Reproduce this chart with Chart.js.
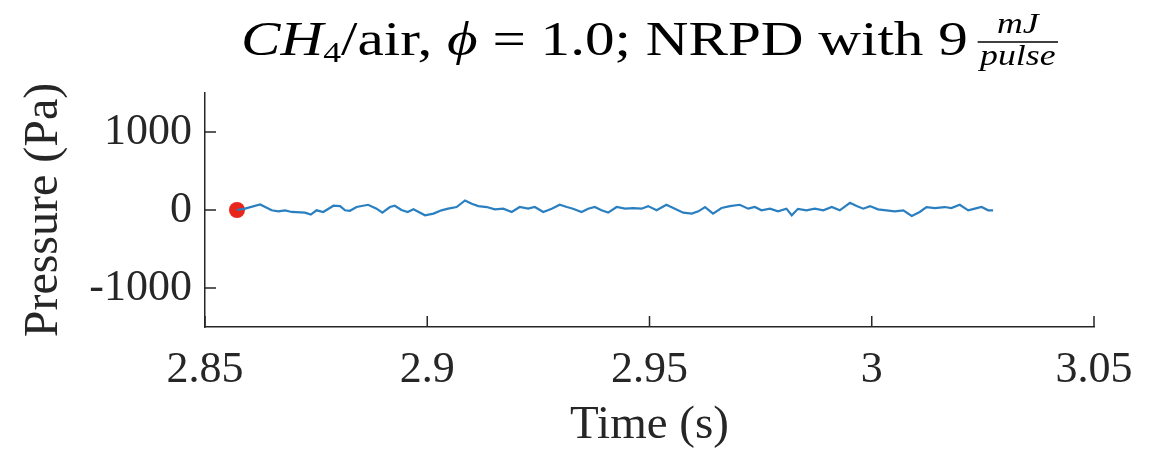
<!DOCTYPE html>
<html>
<head>
<meta charset="utf-8">
<title>CH4/air pressure trace</title>
<script src="https://cdn.jsdelivr.net/npm/chart.js@4.4.1/dist/chart.umd.min.js"></script>
<style>
  html, body { margin: 0; padding: 0; background: #fff; }
  #chart { display: block; }
</style>
</head>
<body>
<canvas id="chart" width="1159" height="454"></canvas>
<script>
// pressure trace (time in s, pressure in Pa)
const time = [
  2.8572, 2.8590, 2.8624, 2.8650, 2.8665, 2.8680, 2.8695, 2.8725, 2.8738, 2.8751,
  2.8766, 2.8789, 2.8804, 2.8815, 2.8826, 2.8841, 2.8867, 2.8886, 2.8899, 2.8916,
  2.8927, 2.8942, 2.8956, 2.8969, 2.8995, 2.9014, 2.9032, 2.9047, 2.9066, 2.9085,
  2.9100, 2.9115, 2.9134, 2.9152, 2.9171, 2.9190, 2.9208, 2.9227, 2.9242, 2.9261,
  2.9280, 2.9298, 2.9314, 2.9328, 2.9347, 2.9362, 2.9377, 2.9392, 2.9407, 2.9426,
  2.9445, 2.9463, 2.9482, 2.9497, 2.9516, 2.9538, 2.9557, 2.9576, 2.9595, 2.9610,
  2.9625, 2.9643, 2.9662, 2.9681, 2.9703, 2.9722, 2.9737, 2.9752, 2.9771, 2.9789,
  2.9808, 2.9820, 2.9834, 2.9853, 2.9872, 2.9891, 2.9910, 2.9928, 2.9951, 2.9966,
  2.9981, 2.9996, 3.0014, 3.0033, 3.0052, 3.0071, 3.0090, 3.0108, 3.0123, 3.0142,
  3.0164, 3.0179, 3.0198, 3.0217, 3.0232, 3.0247, 3.0262, 3.0273
];
const pressure = [
  0, 17, 71, -4, -17, -4, -25, -34, -59, -4,
  -25, 55, 50, -4, -10, 38, 67, 17, -34, 38,
  55, 0, -25, 10, -67, -46, -4, 17, 38, 122,
  80, 50, 38, 8, 17, -25, 38, 17, 38, -25,
  17, 67, 38, 17, -25, 17, 38, -4, -34, 38,
  17, 25, 17, 50, -4, 67, 17, -34, -46, -17,
  38, -46, 25, 50, 67, 17, 38, -4, 17, -17,
  17, -67, 15, -4, 17, -4, 38, -4, 92, 50,
  17, 50, 8, -4, -17, -4, -76, -25, 38, 25,
  38, 25, 67, -4, 17, 38, -4, -4
];
// red marker at the start of the trace
const markerTime = [2.8572];
const markerPressure = [0];

const xTicks = [2.85, 2.9, 2.95, 3, 3.05];
const yTicks = [-1000, 0, 1000];
const xLabel = 'Time (s)';
const yLabel = 'Pressure (Pa)';

// title pieces (math italic, subscript, roman) and the fraction at the end
const titleParts = [
  { text: 'CH', style: 'italic' },
  { text: '4', style: 'sub' },
  { text: '/air, ', style: 'roman' },
  { text: 'ϕ', style: 'italic' },
  { text: ' = 1.0; NRPD with 9', style: 'roman' }
];
const titleFracTop = 'mJ';
const titleFracBottom = 'pulse';

const axisColor = '#262626';
const serif = '"Liberation Serif", "Times New Roman", serif';

/**
 * Draw the title with subscript and fraction (stretched a little, the
 * original is set in a wider LaTeX font)
 */
const mathTitle = {
    id: 'mathTitle',
    afterDraw(chart) {
        const ctx = chart.ctx;
        const area = chart.chartArea;
        const mainSize = 48;
        const subSize = 29;
        const fracSize = 29;
        const baseY = 55;
        const titleSpan = 817;

        function fontFor(style) {
            if (style === 'italic') return 'italic ' + mainSize + 'px ' + serif;
            if (style === 'sub') return subSize + 'px ' + serif;
            return mainSize + 'px ' + serif;
        }

        ctx.save();
        ctx.fillStyle = '#000';
        ctx.textBaseline = 'alphabetic';

        // measure everything first so the title can be centred
        let total = 0;
        const widths = titleParts.map(p => {
            ctx.font = fontFor(p.style);
            const w = ctx.measureText(p.text).width;
            total += w;
            return w;
        });
        ctx.font = 'italic ' + fracSize + 'px ' + serif;
        const topW = ctx.measureText(titleFracTop).width;
        const botW = ctx.measureText(titleFracBottom).width;
        const fracW = Math.max(topW, botW) + 4;
        const gap = 8;
        total += gap + fracW;

        const sx = titleSpan / total;
        ctx.translate((area.left + area.right) / 2 - titleSpan / 2, 0);
        ctx.scale(sx, 1);

        let x = 0;
        titleParts.forEach((p, i) => {
            ctx.font = fontFor(p.style);
            const y = p.style === 'sub' ? baseY + 7 : baseY;
            ctx.fillText(p.text, x, y);
            x += widths[i];
        });

        // fraction
        x += gap;
        const barY = baseY - 13;
        ctx.strokeStyle = '#000';
        ctx.lineWidth = 1.5;
        ctx.beginPath();
        ctx.moveTo(x, barY);
        ctx.lineTo(x + fracW, barY);
        ctx.stroke();
        ctx.font = 'italic ' + fracSize + 'px ' + serif;
        ctx.textAlign = 'center';
        ctx.fillText(titleFracTop, x + fracW / 2, barY - 9);
        ctx.fillText(titleFracBottom, x + fracW / 2, barY + 23);
        ctx.restore();
    }
};

/**
 * Tick marks pointing into the plot, like the original figure
 */
const innerTicks = {
    id: 'innerTicks',
    beforeDatasetsDraw(chart) {
        const ctx = chart.ctx;
        const xs = chart.scales.x;
        const ys = chart.scales.y;
        const len = 11;
        ctx.save();
        ctx.strokeStyle = axisColor;
        ctx.lineWidth = 1.5;
        ctx.beginPath();
        xs.ticks.forEach(t => {
            const px = xs.getPixelForValue(t.value);
            ctx.moveTo(px, xs.top);
            ctx.lineTo(px, xs.top - len);
        });
        ys.ticks.forEach(t => {
            const py = ys.getPixelForValue(t.value);
            ctx.moveTo(ys.right, py);
            ctx.lineTo(ys.right + len, py);
        });
        ctx.stroke();
        ctx.restore();
    }
};

const whiteBg = {
    id: 'whiteBg',
    beforeDraw(chart) {
        const ctx = chart.ctx;
        ctx.save();
        ctx.fillStyle = '#fff';
        ctx.fillRect(0, 0, chart.width, chart.height);
        ctx.restore();
    }
};

const traceData = time.map((t, i) => ({ x: t, y: pressure[i] }));
const markerData = markerTime.map((t, i) => ({ x: t, y: markerPressure[i] }));

new Chart(document.getElementById('chart'), {
    type: 'scatter',
    data: {
        datasets: [
            {
                data: traceData,
                showLine: true,
                borderColor: '#2a7fc0',
                borderWidth: 2.2,
                pointRadius: 0,
                tension: 0
            },
            {
                data: markerData,
                pointRadius: 8,
                pointBackgroundColor: '#e8261c',
                pointBorderColor: '#e8261c',
                pointBorderWidth: 0
            }
        ]
    },
    options: {
        responsive: false,
        animation: false,
        events: [],
        layout: {
            padding: { top: 93, right: 65, left: 0, bottom: 0 }
        },
        plugins: {
            legend: { display: false },
            title: { display: false },
            tooltip: { enabled: false }
        },
        scales: {
            x: {
                type: 'linear',
                min: 2.85,
                max: 3.05,
                afterBuildTicks: scale => { scale.ticks = xTicks.map(v => ({ value: v })); },
                afterFit: scale => { scale.height = 127; },
                grid: { display: false },
                border: { display: true, color: axisColor, width: 1.5 },
                ticks: {
                    autoSkip: false,
                    maxRotation: 0,
                    padding: 9,
                    color: axisColor,
                    font: { family: serif, size: 44 },
                    callback: value => String(value)
                },
                title: {
                    display: true,
                    text: xLabel,
                    color: axisColor,
                    font: { family: serif, size: 47 },
                    padding: { top: 4, bottom: 0 }
                }
            },
            y: {
                type: 'linear',
                min: -1500,
                max: 1500,
                afterBuildTicks: scale => { scale.ticks = yTicks.map(v => ({ value: v })); },
                afterFit: scale => { scale.width = 205; },
                grid: { display: false },
                border: { display: true, color: axisColor, width: 1.5 },
                ticks: {
                    autoSkip: false,
                    padding: 5,
                    color: axisColor,
                    font: { family: serif, size: 44 },
                    callback: value => String(value)
                },
                title: {
                    display: true,
                    text: yLabel,
                    color: axisColor,
                    font: { family: serif, size: 48 },
                    padding: { top: 16, bottom: 0 }
                }
            }
        }
    },
    plugins: [whiteBg, innerTicks, mathTitle]
});
</script>
</body>
</html>
